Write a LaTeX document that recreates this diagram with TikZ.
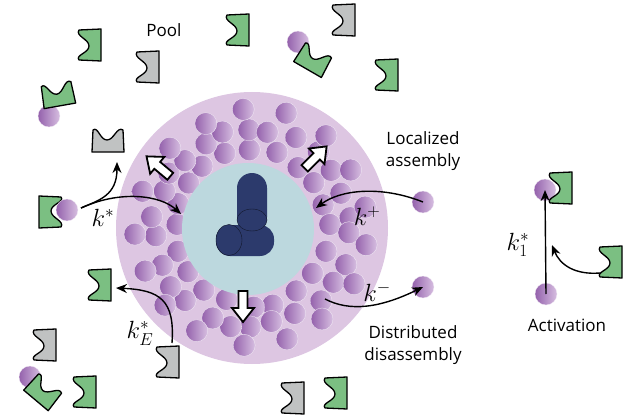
\documentclass[tikz,border=0pt]{standalone}
\usepackage{amsmath}
\usepackage{fontspec}
\setsansfont{Open Sans}
\usetikzlibrary{arrows.meta,calc}

\definecolor{recG}{HTML}{7BBF82}
\definecolor{recN}{HTML}{C0C2C2}
\definecolor{ballD}{HTML}{9461AC}
\definecolor{ballL}{HTML}{D7BFE1}
\definecolor{halo}{HTML}{DDC6E2}
\definecolor{core}{HTML}{BCD8DE}
\definecolor{navy}{HTML}{2C3A6C}

\tikzset{
  ball/.style={left color=ballD, right color=ballL, draw=white!70!ballL, line width=0.3pt},
  rxn/.style={-{Stealth[length=11pt,width=9pt]}, line width=1.4pt},
  lbl/.style={font=\fontsize{17}{22}\selectfont\sffamily, align=center},
  rate/.style={font=\fontsize{27}{30}\selectfont},
  pics/rec/.style={code={
    \draw[line width=1.3pt, line join=round, pic actions]
      (-11,-15) -- (11,-16) -- (11,16) -- (-11,15)
      .. controls (-15,10) and (-1,8) .. (-1,1)
      .. controls (-1,-6) and (-15,-9) .. (-11,-15) -- cycle;
  }},
  pics/push/.style={code={
    \draw[line width=1.8pt, line join=miter, pic actions]
      (-16,-4.5) -- (1,-4.5) -- (1,-11) -- (15,0) -- (1,11) -- (1,4.5) -- (-16,4.5) -- cycle;
  }},
}
\newcommand{\ballat}[3]{\shade[ball] (#2,#3) circle (11); \coordinate (#1) at (#2,#3);}

\begin{document}
\begin{tikzpicture}[x=1pt, y=-1pt]
\useasboundingbox (0,0) rectangle (635,420);

% condensate
\fill[halo] (252,228) circle (136);
\pgfmathsetseed{7}
\foreach \r/\n/\o in {77/20/0, 98/26/6, 117/17/11}{
  \foreach \i in {1,...,\n}{
    \pgfmathsetmacro{\aa}{\o+360*\i/\n+4*rand}
    \pgfmathsetmacro{\rr}{\r+3*rand}
    \shade[ball] ($(252,228)+(\aa:\rr)$) circle (11);
  }
}
\fill[core] (248,229) circle (66);

% nucleus
\fill[navy, rounded corners=14pt] (216,225) rectangle (274,256);
\draw[black!60!navy, fill=navy] (229,240) ellipse (13 and 15.5);
\fill[navy, rounded corners=15pt] (237,173) rectangle (267,232);
\fill[navy] (237,200) rectangle (267,220);
\draw[black!60!navy, fill=navy] (252,220) ellipse (15 and 11);

% pool
\pic[fill=recG] at (90,45) {rec};
\pic[fill=recN] at (148,67) {rec};
\pic[fill=recG] at (238,30) {rec};
\pic[fill=recN] at (344,20) {rec};
\pic[fill=recG] at (387,75) {rec};
\ballat{p1}{298}{42}
\pic[fill=recG, rotate=-120] at (313,60) {rec};
\ballat{p2}{49}{116}
\pic[fill=recG, rotate=-80] at (58,95) {rec};
\pic[fill=recN, rotate=-90] at (108,141) {rec};
\pic[fill=recG, rotate=180] at (50,212) {rec};
\ballat{p3}{67}{210}
\pic[fill=recG] at (100,285) {rec};
\pic[fill=recN] at (45,345) {rec};
\ballat{p4}{30}{377}
\pic[fill=recG, rotate=-130] at (43,392) {rec};
\pic[fill=recG] at (85,392) {rec};
\pic[fill=recN] at (168,362) {rec};
\pic[fill=recN] at (293,398) {rec};
\pic[fill=recG] at (336,393) {rec};

% free drops
\ballat{kp}{423}{202}
\ballat{km}{423}{287}
\ballat{a1}{545}{190}
\pic[fill=recG] at (561,188) {rec};
\ballat{a0}{546}{294}
\pic[fill=recG] at (611,262) {rec};
\coordinate (ae) at (600,273);

% push arrows
\pic[fill=white, rotate=140] at (158,166) {push};
\pic[fill=white, rotate=45] at (316,157) {push};
\pic[fill=white, rotate=-90] at (243,307) {push};

% reaction arrows
\coordinate (ks) at (81,208);
\coordinate (kin) at (181,214);
\coordinate (grey) at (117,162);
\coordinate (kpin) at (316,208);
\coordinate (kmout) at (325,299);
\coordinate (kes) at (172,343);
\coordinate (ket) at (116,288);
\draw[rxn] (ks) .. controls (120,190) and (160,195) .. (kin);
\draw[rxn] (ks) .. controls (100,200) and (117,195) .. (grey);
\draw[rxn] (kp) .. controls (380,185) and (340,190) .. (kpin);
\draw[rxn] (kmout) .. controls (350,312) and (380,308) .. (km);
\draw[rxn] (kes) .. controls (175,300) and (160,290) .. (ket);
\draw[rxn] (a0) -- (a1);
\draw[rxn] (ae) .. controls (575,275) and (560,265) .. (552,245);

% labels
\node[lbl] (pool) at (164,30) {Pool};
\node[lbl] (loc) at (423,151) {Localized\\assembly};
\node[lbl] (dis) at (413,345) {Distributed\\disassembly};
\node[lbl] (act) at (567,325) {Activation};
\node[rate] (rks) at (103,218) {$k^{*}$};
\node[rate] (rkp) at (367,216) {$k^{+}$};
\node[rate] (rkm) at (377,292) {$k^{-}$};
\node[rate] (rke) at (140,333) {$k^{*}_{E}$};
\node[rate] (rk1) at (518,245) {$k^{*}_{1}$};
\end{tikzpicture}
\end{document}
